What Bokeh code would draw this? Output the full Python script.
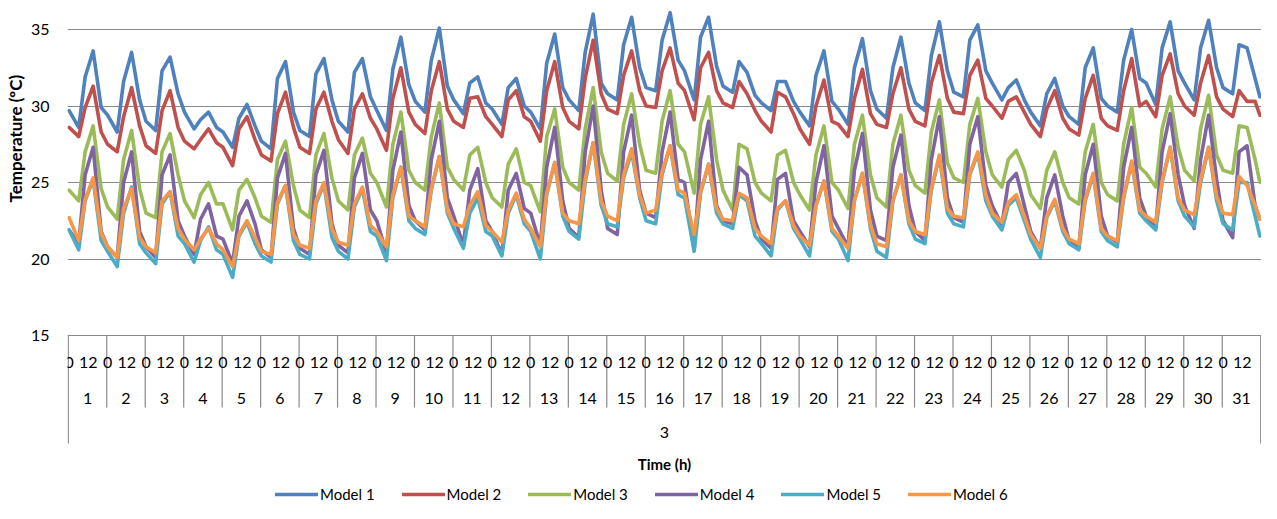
import math
from bokeh.plotting import figure
from bokeh.models import Range1d, Legend, LegendItem, Title
from bokeh.core.properties import value
from bokeh.embed import file_html
from bokeh.resources import INLINE

# ---------------- data ----------------
MONTH_LABEL = "3"
DAY_LABELS = ["1", "2", "3", "4", "5", "6", "7", "8", "9", "10", "11", "12", "13", "14", "15", "16",
              "17", "18", "19", "20", "21", "22", "23", "24", "25", "26", "27", "28", "29", "30", "31"]
HOUR_LABELS = ["0", "12"]
HOURS_PER_DAY = 24
SAMPLE_HOURS = [0, 6, 10, 15, 20]   # hours of each day at which values were read
LAST_HOUR = 23                      # last hour of the month (day 31)

SERIES_NAMES = ["Model 1", "Model 2", "Model 3", "Model 4", "Model 5", "Model 6"]
SERIES_COLORS = ["#4F81BD", "#C0504D", "#9BBB59", "#8064A2", "#4BACC6", "#F79646"]

MODEL_1 = [
    [29.7, 28.6, 31.9, 33.6, 29.9], [29.4, 28.3, 31.6, 33.5, 30.4], [29.0, 28.4, 32.3, 33.2, 30.8],
    [29.6, 28.5, 29.1, 29.6, 28.6], [28.3, 27.3, 29.2, 30.1, 28.7], [27.7, 27.2, 31.8, 32.9, 29.6],
    [28.4, 28.0, 32.1, 33.1, 30.4], [29.0, 28.3, 32.2, 33.1, 30.6], [29.7, 28.4, 32.4, 34.5, 31.4],
    [30.3, 29.6, 33.0, 35.1, 31.3], [30.4, 29.5, 31.5, 31.9, 30.2], [29.8, 28.8, 31.2, 31.8, 30.0],
    [29.6, 28.5, 32.8, 34.7, 31.2], [30.4, 29.7, 33.5, 36.0, 31.5], [30.8, 30.4, 34.0, 35.8, 32.5],
    [31.2, 31.0, 34.3, 36.1, 33.0], [32.3, 30.4, 34.5, 35.8, 32.6], [31.3, 30.9, 32.9, 32.2, 30.7],
    [30.2, 29.7, 31.6, 31.6, 30.3], [29.6, 28.7, 32.0, 33.6, 30.3], [29.8, 28.8, 32.5, 34.4, 31.0],
    [29.8, 29.2, 32.5, 34.5, 31.5], [30.2, 29.7, 33.3, 35.5, 32.3], [30.9, 30.6, 34.3, 35.3, 32.3],
    [31.5, 30.4, 31.2, 31.7, 30.4], [29.6, 28.7, 30.8, 31.8, 30.0], [29.3, 28.8, 32.5, 33.8, 30.5],
    [30.0, 29.6, 33.0, 35.0, 31.8], [31.5, 30.1, 33.8, 35.5, 32.3], [31.5, 30.4, 33.8, 35.6, 32.5],
    [31.2, 30.8, 34.0, 33.8, 31.8],
]
MODEL_1_LAST = 30.6

MODEL_2 = [
    [28.6, 28.0, 29.9, 31.3, 28.3], [27.5, 27.0, 29.3, 31.2, 28.7], [27.4, 26.9, 29.7, 31.0, 28.6],
    [27.7, 27.2, 27.8, 28.5, 27.6], [27.3, 26.1, 28.5, 29.3, 27.8], [26.8, 26.4, 29.5, 30.9, 28.6],
    [27.3, 26.9, 29.8, 30.9, 29.0], [27.8, 26.9, 29.8, 30.8, 29.2], [28.5, 27.1, 30.5, 32.5, 29.6],
    [28.8, 28.2, 31.0, 32.9, 29.8], [29.0, 28.6, 30.5, 30.6, 29.3], [28.8, 28.0, 30.4, 31.0, 29.3],
    [29.0, 27.7, 31.0, 32.9, 29.9], [29.0, 28.5, 31.8, 34.3, 30.8], [29.8, 29.5, 32.0, 33.6, 31.0],
    [30.0, 29.9, 32.3, 33.8, 31.5], [31.0, 29.1, 32.5, 33.5, 31.0], [30.2, 29.9, 31.6, 30.8, 29.7],
    [29.0, 28.3, 30.9, 30.6, 29.5], [28.5, 27.5, 30.0, 31.7, 29.0], [28.8, 28.0, 30.5, 32.4, 29.5],
    [28.8, 28.6, 30.8, 32.5, 29.8], [29.0, 28.7, 31.5, 33.3, 30.5], [29.6, 29.5, 32.0, 33.0, 30.5],
    [30.0, 29.2, 30.3, 30.6, 29.6], [28.8, 28.0, 29.8, 31.0, 29.2], [28.5, 28.1, 30.5, 32.0, 29.2],
    [28.7, 28.4, 31.0, 33.1, 30.0], [30.3, 29.3, 32.0, 33.4, 30.8], [30.0, 29.4, 31.5, 33.3, 30.6],
    [29.8, 29.3, 31.0, 30.3, 30.3],
]
MODEL_2_LAST = 29.4

MODEL_3 = [
    [24.5, 23.8, 27.0, 28.7, 24.6], [23.4, 22.6, 26.5, 28.4, 24.6], [23.0, 22.7, 27.0, 28.2, 25.5],
    [23.8, 22.7, 24.2, 25.0, 23.6], [23.6, 21.9, 24.5, 25.2, 24.0], [22.8, 22.4, 26.5, 27.7, 24.8],
    [23.2, 22.7, 26.8, 28.2, 25.3], [23.8, 23.2, 26.8, 27.9, 25.6], [25.0, 23.4, 27.5, 29.6, 25.8],
    [25.0, 24.5, 28.0, 30.2, 26.0], [25.2, 24.5, 26.8, 27.3, 25.0], [24.0, 23.4, 26.2, 27.2, 25.0],
    [24.8, 23.1, 28.0, 29.8, 26.0], [25.0, 24.5, 28.5, 31.2, 27.0], [25.6, 25.1, 28.8, 30.8, 27.5],
    [25.8, 25.6, 29.0, 31.0, 27.5], [27.0, 24.3, 28.8, 30.6, 26.5], [24.5, 23.2, 27.5, 27.2, 25.0],
    [24.3, 23.8, 26.8, 27.1, 25.0], [24.2, 23.2, 26.8, 28.7, 25.0], [24.5, 23.3, 27.5, 29.4, 25.5],
    [24.0, 23.4, 27.5, 29.4, 25.8], [24.8, 24.3, 28.3, 30.4, 26.3], [25.3, 25.0, 28.8, 30.5, 27.0],
    [25.5, 24.7, 26.5, 27.1, 25.8], [24.2, 23.3, 25.8, 27.0, 25.0], [24.0, 23.6, 27.0, 28.8, 25.0],
    [24.2, 23.8, 27.5, 29.9, 26.0], [25.6, 24.7, 28.5, 30.6, 27.3], [25.8, 25.1, 28.5, 30.7, 26.8],
    [25.8, 25.6, 28.7, 28.6, 26.5],
]
MODEL_3_LAST = 25.0

MODEL_4 = [
    [21.9, 21.0, 25.5, 27.3, 21.8], [20.8, 20.1, 25.0, 27.0, 21.8], [20.8, 20.1, 25.5, 26.8, 22.5],
    [21.5, 20.3, 22.6, 23.6, 21.5], [21.3, 19.7, 22.8, 23.8, 22.3], [20.6, 20.1, 25.3, 26.9, 22.0],
    [20.7, 20.3, 25.5, 27.1, 22.3], [20.9, 20.4, 25.3, 26.9, 23.2], [22.5, 20.4, 25.8, 28.3, 23.5],
    [22.5, 21.9, 26.5, 29.0, 24.0], [22.8, 20.9, 24.5, 25.9, 22.5], [21.8, 20.3, 24.5, 25.6, 23.3],
    [23.0, 20.9, 26.0, 28.6, 23.8], [22.0, 21.4, 27.0, 30.0, 24.5], [22.0, 21.6, 27.0, 29.4, 24.5],
    [23.0, 22.7, 27.0, 29.6, 25.2], [25.0, 20.6, 26.5, 29.0, 23.5], [22.5, 22.3, 26.0, 25.5, 22.5],
    [21.3, 20.7, 25.2, 25.6, 22.5], [21.8, 20.8, 25.0, 27.4, 22.8], [22.0, 20.8, 25.8, 28.2, 23.2],
    [21.5, 21.2, 26.0, 28.1, 23.5], [21.8, 21.2, 26.5, 29.3, 24.0], [22.7, 22.4, 27.5, 29.3, 24.8],
    [23.5, 22.2, 25.0, 25.6, 23.5], [21.8, 20.7, 24.0, 25.5, 22.8], [21.2, 20.7, 25.5, 27.5, 22.8],
    [21.5, 21.1, 26.0, 28.6, 24.0], [22.8, 22.1, 27.0, 29.5, 25.5], [23.5, 22.0, 26.5, 29.4, 25.2],
    [22.5, 21.4, 27.0, 27.4, 23.5],
]
MODEL_4_LAST = 22.6

MODEL_5 = [
    [21.9, 20.6, 23.8, 25.2, 21.2], [20.5, 19.5, 23.0, 24.7, 21.0], [20.4, 19.7, 23.6, 24.4, 21.5],
    [21.0, 19.8, 21.2, 22.1, 20.6], [20.3, 18.8, 21.5, 22.4, 21.0], [20.2, 19.8, 23.6, 24.8, 21.2],
    [20.3, 20.0, 23.6, 24.9, 21.4], [20.5, 20.0, 23.4, 24.6, 21.8], [21.5, 19.9, 24.0, 26.0, 22.5],
    [22.0, 21.6, 24.5, 26.7, 23.0], [22.0, 20.7, 23.0, 24.0, 21.8], [21.5, 20.2, 23.0, 24.2, 22.3],
    [21.8, 20.0, 24.2, 26.3, 22.8], [21.8, 21.3, 25.0, 27.6, 23.5], [22.3, 22.1, 25.3, 27.0, 24.0],
    [22.5, 22.3, 25.5, 27.4, 24.2], [24.0, 20.5, 24.3, 26.2, 23.0], [22.3, 22.0, 24.2, 23.8, 21.5],
    [21.0, 20.2, 23.2, 23.8, 22.0], [21.3, 20.2, 23.5, 25.1, 21.8], [21.3, 19.9, 23.8, 25.6, 22.0],
    [20.5, 20.1, 23.8, 25.5, 22.3], [21.3, 21.0, 24.5, 26.7, 23.0], [22.3, 22.1, 25.5, 26.9, 23.8],
    [22.8, 21.9, 23.5, 24.0, 22.5], [21.3, 20.1, 22.7, 23.8, 21.8], [21.0, 20.6, 23.8, 25.5, 21.8],
    [21.2, 20.8, 24.0, 26.3, 23.0], [22.5, 21.9, 25.0, 27.3, 23.8], [22.8, 22.1, 25.0, 27.3, 23.8],
    [22.3, 21.9, 25.0, 25.0, 22.8],
]
MODEL_5_LAST = 21.5

MODEL_6 = [
    [22.7, 21.2, 23.9, 25.3, 21.7], [20.8, 20.1, 23.3, 24.6, 21.4], [20.8, 20.4, 23.8, 24.4, 22.0],
    [21.3, 20.6, 21.3, 22.0, 21.0], [20.6, 19.5, 21.6, 22.5, 21.4], [20.5, 20.3, 23.7, 24.8, 21.6],
    [20.9, 20.7, 23.8, 25.0, 22.0], [21.1, 20.9, 23.6, 24.7, 22.2], [21.8, 20.8, 24.2, 26.0, 22.8],
    [22.5, 22.1, 24.6, 26.7, 23.2], [22.3, 22.1, 23.5, 24.4, 22.2], [21.8, 21.1, 23.2, 24.3, 22.6],
    [22.0, 20.8, 24.3, 26.3, 23.0], [22.5, 22.3, 25.2, 27.6, 23.8], [22.8, 22.5, 25.5, 27.2, 24.2],
    [23.0, 23.2, 25.7, 27.4, 24.5], [24.3, 21.6, 24.4, 26.2, 23.3], [22.6, 22.5, 24.3, 24.0, 22.0],
    [21.5, 21.0, 23.3, 23.8, 22.2], [21.5, 20.9, 23.5, 25.1, 22.0], [21.5, 20.7, 23.8, 25.6, 22.2],
    [21.0, 20.8, 23.8, 25.5, 22.5], [21.8, 21.6, 24.6, 26.8, 23.3], [22.8, 22.7, 25.6, 27.0, 24.2],
    [23.0, 22.4, 23.7, 24.2, 22.8], [21.6, 20.7, 22.8, 23.9, 22.0], [21.3, 21.0, 23.9, 25.6, 22.0],
    [21.5, 21.2, 24.1, 26.4, 23.2], [22.8, 22.4, 25.1, 27.3, 24.0], [23.2, 22.9, 25.2, 27.3, 24.1],
    [23.0, 22.9, 25.4, 24.8, 23.5],
]
MODEL_6_LAST = 22.6

SERIES = [(MODEL_1, MODEL_1_LAST), (MODEL_2, MODEL_2_LAST), (MODEL_3, MODEL_3_LAST),
          (MODEL_4, MODEL_4_LAST), (MODEL_5, MODEL_5_LAST), (MODEL_6, MODEL_6_LAST)]

Y_TICKS = [15, 20, 25, 30, 35]

# ---------------- layout ----------------
FONT = "Lato"
W, H = 1261, 503
LEFT = 67                 # frame starts at x 67
n_days = len(DAY_LABELS)
n_hours = n_days * HOURS_PER_DAY
X0, X1 = -0.5, n_hours + 0.5
PX = 15.3                 # pixels per degree
Y35 = 29                  # pixel row of the 35 gridline
Y_END = 35 + Y35 / PX
Y_START = 35 - (H - Y35) / PX


def yd(py):
    return 35 - (py - Y35) / PX


p = figure(width=W, height=H, output_backend="svg", toolbar_location=None,
           x_range=Range1d(X0, X1), y_range=Range1d(Y_START, Y_END),
           x_axis_location=None, min_border_left=LEFT, min_border_right=0,
           min_border_top=0, min_border_bottom=0)
p.outline_line_color = None
p.background_fill_color = "white"
p.xgrid.visible = False

p.yaxis.ticker = Y_TICKS
p.yaxis.axis_line_color = None
p.yaxis.major_tick_line_color = None
p.yaxis.minor_tick_line_color = None
p.yaxis.major_tick_out = 0
p.yaxis.major_label_standoff = 18
p.yaxis.major_label_text_font = FONT
p.yaxis.major_label_text_font_size = "16px"
p.yaxis.major_label_text_color = "#000000"
p.ygrid.grid_line_color = "#8a8a8a"
p.ygrid.grid_line_width = 1.2

# lines
renderers = []
for (days, last), color in zip(SERIES, SERIES_COLORS):
    xs, ys = [], []
    for d, vals in enumerate(days):
        for h, v in zip(SAMPLE_HOURS, vals):
            xs.append(d * HOURS_PER_DAY + h + 0.5)
            ys.append(v)
    xs.append((n_days - 1) * HOURS_PER_DAY + LAST_HOUR + 0.5)
    ys.append(last)
    r = p.line(xs, ys, line_color=color, line_width=3.6, line_join="round", line_cap="round")
    renderers.append(r)

# category axis: separators
sep_x = [d * HOURS_PER_DAY for d in range(n_days + 1)]
sep_y1 = [yd(443) if d in (0, n_days) else yd(407) for d in range(n_days + 1)]
p.segment(x0=sep_x, y0=[15] * len(sep_x), x1=sep_x, y1=sep_y1, line_color="#8a8a8a", line_width=1.2)

# hour labels
hx, ht = [], []
for d in range(n_days):
    for lab in HOUR_LABELS:
        hx.append(d * HOURS_PER_DAY + int(lab) + 0.5)
        ht.append(lab)
p.text(x=hx, y=[yd(362)] * len(hx), text=ht, text_font=value(FONT), text_font_size="16px",
       text_align="center", text_baseline="middle", text_color="#000000")

# day labels
dx = [d * HOURS_PER_DAY + HOURS_PER_DAY / 2 for d in range(n_days)]
p.text(x=dx, y=[yd(397.5)] * n_days, text=DAY_LABELS, text_font=value(FONT), text_font_size="16px",
       text_align="center", text_baseline="middle", text_color="#000000")

# month label
p.text(x=[n_hours / 2], y=[yd(432)], text=[MONTH_LABEL], text_font=value(FONT), text_font_size="16px",
       text_align="center", text_baseline="middle", text_color="#000000")

# axis titles
p.text(x=[n_hours / 2], y=[yd(463)], text=["Time (h)"], text_font=value(FONT), text_font_size="15px",
       text_font_style="bold", text_align="center", text_baseline="middle", text_color="#000000")
p.add_layout(Title(text="Temperature (ºC)", align="left", offset=301, standoff=4,
                   text_font=FONT, text_font_size="17px", text_font_style="bold",
                   text_color="#000000"), "left")

legend = Legend(items=[LegendItem(label=n, renderers=[r]) for n, r in zip(SERIES_NAMES, renderers)],
                orientation="horizontal", location=(275 - LEFT, 0),
                glyph_width=43, glyph_height=14, label_height=14, label_standoff=2, spacing=27,
                padding=0, margin=0, border_line_color=None, background_fill_alpha=0,
                label_text_font=FONT, label_text_font_size="15px", label_text_color="#000000")
p.add_layout(legend)

open("out.html", "w").write(file_html(p, INLINE))
